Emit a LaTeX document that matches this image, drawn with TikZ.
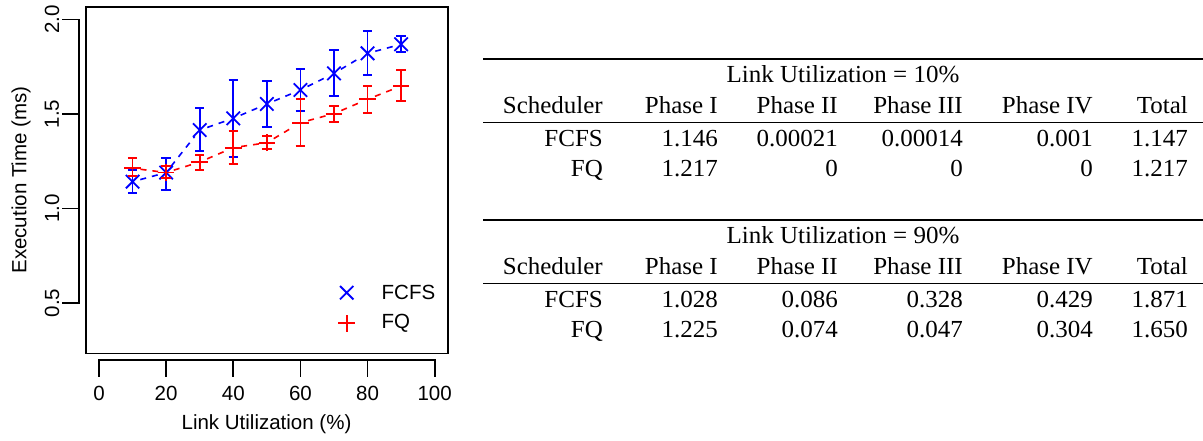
\documentclass[tikz,border=0pt]{standalone}
\usepackage{fontspec}
\setmainfont{Liberation Serif}
\newfontfamily\plotfont{Liberation Sans}
\newfontfamily\tabfont[FakeStretch=1.02]{Liberation Serif}
\definecolor{fcfs}{RGB}{0,0,255}
\definecolor{fq}{RGB}{255,0,0}
\begin{document}
\begin{tikzpicture}[x=1pt,y=-1pt,
  plottxt/.style={font=\plotfont\fontsize{20.5}{24}\selectfont, inner sep=0pt},
  tabtxt/.style={font=\tabfont\fontsize{24.5}{28}\selectfont, inner sep=0pt, anchor=base east},
  tabttl/.style={font=\tabfont\fontsize{24.5}{28}\selectfont, inner sep=0pt, anchor=base},
  axisline/.style={line width=1.8pt, line cap=rect},
  toprl/.style={line width=1.6pt},
  midrl/.style={line width=1.1pt},
  errbar/.style={line width=1.8pt},
  serline/.style={line width=1.6pt, dash pattern=on 6pt off 6pt, shorten <=8pt, shorten >=8pt},
  pics/crossmark/.style={code={\draw[line width=1.8pt] (-6.7pt,-6.7pt) -- (6.7pt,6.7pt) (-6.7pt,6.7pt) -- (6.7pt,-6.7pt);}},
  pics/plusmark/.style={code={\draw[line width=1.8pt] (-8.3pt,0pt) -- (8.3pt,0pt) (0pt,-8.3pt) -- (0pt,8.3pt);}}
]
\useasboundingbox (0,0) rectangle (1203,440);

% ---------- plot frame and axes ----------
\draw[line width=1.8pt] (86,6.7) rectangle (447.7,353.4);
\draw[axisline] (79,19.5) -- (79,303);
\foreach \v/\py in {2.0/19.5, 1.5/114, 1.0/208.5, 0.5/303} {
  \draw[axisline] (63,\py) -- (79,\py);
  \node[plottxt, rotate=90] (yl\v) at (52,\py) {\v};
}
\draw[axisline] (99,360) -- (434.7,360);
\foreach \v in {0,20,40,60,80,100} {
  \draw[axisline] ({99+\v*3.357},360) -- ({99+\v*3.357},376);
  \node[plottxt] (xl\v) at ({99+\v*3.357},393) {\v};
}
\node[plottxt, rotate=90] (ylab) at (21,180) {Execution Time (ms)};
\node[plottxt] (xlab) at (266.5,424) {Link Utilization (\%)};

% ---------- data ----------
\begin{scope}[shift={(99,397.5)}, x=3.357pt, y=189pt]
  % FCFS
  \foreach \x/\m/\lo/\hi in {10/1.142/1.080/1.205, 20/1.190/1.098/1.269, 30/1.415/1.306/1.530,
      40/1.477/1.274/1.680, 50/1.553/1.431/1.675, 60/1.627/1.517/1.738,
      70/1.715/1.594/1.839, 80/1.821/1.706/1.941, 90/1.869/1.826/1.914} {
    \coordinate (b\x) at (\x,\m);
    \draw[errbar, fcfs] (\x,\lo) -- (\x,\hi);
    \draw[errbar, fcfs] (\x,\lo) ++(-4.7pt,0pt) -- ++(9.4pt,0pt);
    \draw[errbar, fcfs] (\x,\hi) ++(-4.7pt,0pt) -- ++(9.4pt,0pt);
    \pic[fcfs] at (b\x) {crossmark};
  }
  \foreach \a/\b in {10/20,20/30,30/40,40/50,50/60,60/70,70/80,80/90}
    \draw[serline, fcfs] (b\a) -- (b\b);
  % FQ
  \foreach \x/\m/\lo/\hi in {10/1.213/1.170/1.266, 20/1.190/1.160/1.225, 30/1.246/1.204/1.285,
      40/1.322/1.235/1.412, 50/1.348/1.315/1.384, 60/1.454/1.332/1.578,
      70/1.502/1.459/1.542, 80/1.578/1.507/1.650, 90/1.648/1.569/1.733} {
    \coordinate (r\x) at (\x,\m);
    \draw[errbar, fq] (\x,\lo) -- (\x,\hi);
    \draw[errbar, fq] (\x,\lo) ++(-4.7pt,0pt) -- ++(9.4pt,0pt);
    \draw[errbar, fq] (\x,\hi) ++(-4.7pt,0pt) -- ++(9.4pt,0pt);
    \pic[fq] at (r\x) {plusmark};
  }
  \foreach \a/\b in {10/20,20/30,30/40,40/50,50/60,60/70,70/80,80/90}
    \draw[serline, fq] (r\a) -- (r\b);
\end{scope}

% ---------- legend ----------
\coordinate (lgb) at (346.7,292.7);
\coordinate (lgr) at (346.7,323.3);
\pic[fcfs] at (lgb) {crossmark};
\pic[fq] at (lgr) {plusmark};
\node[plottxt, anchor=west] (lgbt) at (381.5,292.7) {FCFS};
\node[plottxt, anchor=west] (lgrt) at (381.5,323.3) {FQ};

% ---------- table 1 ----------
\draw[toprl] (483,59) -- (1203,59);
\node[tabttl] (t1title) at (843,82) {Link Utilization = 10\%};
\foreach \c/\xr/\h/\a/\b in {1/603/Scheduler/FCFS/FQ, 2/718/Phase I/1.146/1.217,
    3/838/Phase II/0.00021/0, 4/963/Phase III/0.00014/0, 5/1093/Phase IV/0.001/0,
    6/1188/Total/1.147/1.217} {
  \node[tabtxt] (t1h\c) at (\xr,113) {\h};
  \node[tabtxt] (t1a\c) at (\xr,146) {\a};
  \node[tabtxt] (t1b\c) at (\xr,176) {\b};
}
\draw[midrl] (483,122.5) -- (1203,122.5);

% ---------- table 2 ----------
\draw[toprl] (483,220) -- (1203,220);
\node[tabttl] (t2title) at (843,243) {Link Utilization = 90\%};
\foreach \c/\xr/\h/\a/\b in {1/603/Scheduler/FCFS/FQ, 2/718/Phase I/1.028/1.225,
    3/838/Phase II/0.086/0.074, 4/963/Phase III/0.328/0.047, 5/1093/Phase IV/0.429/0.304,
    6/1188/Total/1.871/1.650} {
  \node[tabtxt] (t2h\c) at (\xr,274) {\h};
  \node[tabtxt] (t2a\c) at (\xr,307) {\a};
  \node[tabtxt] (t2b\c) at (\xr,337) {\b};
}
\draw[midrl] (483,283.5) -- (1203,283.5);
\end{tikzpicture}
\end{document}
